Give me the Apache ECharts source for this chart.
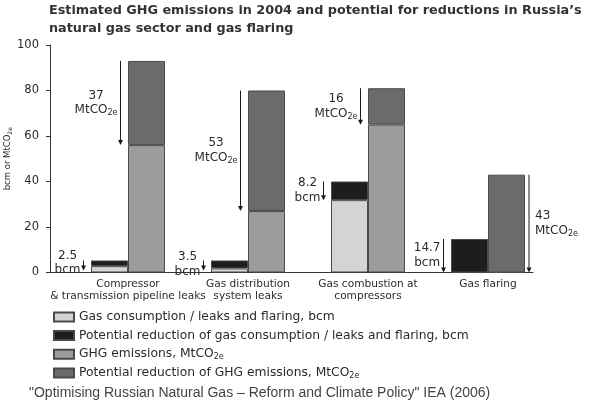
<!DOCTYPE html>
<html><head><meta charset="utf-8">
<script src="https://cdn.jsdelivr.net/npm/echarts@6/dist/echarts.min.js"></script>
<style>html,body{margin:0;padding:0;background:#fff}#c{width:605px;height:406px}</style>
</head><body><div id="c"></div>
<script>
// ---- data ----
const categories = ['Compressor\n& transmission pipeline leaks', 'Gas distribution\nsystem leaks', 'Gas combustion at\ncompressors', 'Gas flaring'];
const gasConsumption = [2.8, 1.8, 31.8, 0];      // bcm
const gasReduction   = [2.5, 3.5, 8.2, 14.7];     // bcm
const ghgEmissions   = [56, 27, 65, 0];           // MtCO2e
const ghgReduction   = [37, 53, 16, 43];          // MtCO2e
const yTickValues    = [0, 20, 40, 60, 80, 100];
const seriesNames = [
  'Gas consumption / leaks and flaring, bcm',
  'Potential reduction of gas consumption / leaks and flaring, bcm',
  'GHG emissions, MtCO2e',
  'Potential reduction of GHG emissions, MtCO2e'
];
const titleText = 'Estimated GHG emissions in 2004 and potential for reductions in Russia\u2019s\nnatural gas sector and gas flaring';
const sourceText = '"Optimising Russian Natural Gas \u2013 Reform and Climate Policy" IEA (2006)';
const yAxisName = 'bcm or MtCO2e';

// ---- style ----
const FONT = 'DejaVu Sans';
const TXT = '#2b2b2b';
const COLORS = ['#d4d4d4', '#1d1d1d', '#9c9c9c', '#6b6b6b'];
const BAR_W = 37;
const ANN_SIZE = 12, SUB_SIZE = 8;

const cvs = document.createElement('canvas').getContext('2d');
function tw(t, size) { cvs.font = size + 'px "' + FONT + '"'; return cvs.measureText(t).width; }
function sub(s) { return s.replace('MtCO2e', '{m|MtCO}{s|2e}'); }

// annotations: [category, top, bottom, kind, amount]
const annots = [];
categories.forEach((c, i) => {
  annots.push([i, gasConsumption[i] + gasReduction[i], gasConsumption[i], 0, gasReduction[i]]);
  annots.push([i, ghgEmissions[i] + ghgReduction[i], ghgEmissions[i], i === categories.length - 1 ? 2 : 1, ghgReduction[i]]);
});

const chart = echarts.init(document.getElementById('c'), null, { renderer: 'canvas' });

function richFor(size, subSize) {
  return {
    m: { fontSize: size, fontFamily: FONT, color: TXT, lineHeight: size + 1, verticalAlign: 'middle' },
    s: { fontSize: subSize, fontFamily: FONT, color: TXT, verticalAlign: 'bottom', lineHeight: size + 2 }
  };
}

function renderAnn(params, api) {
  const i = api.value(0), top = api.value(1), bot = api.value(2), kind = api.value(3), amt = api.value(4);
  const pt = api.coord([i, top]), pb = api.coord([i, bot]);
  const cx = pt[0];
  let x;
  if (kind === 0) x = cx - BAR_W - 7.5;
  else if (kind === 1) x = cx - 7.5;
  else x = cx + BAR_W + 4;
  const y1 = pt[1];
  let y2 = pb[1];
  const ym = (y1 + y2) / 2;
  if (y2 - y1 < 10) y2 = y1 + 10;
  const children = [
    { type: 'line', shape: { x1: x, y1: y1, x2: x, y2: y2 - 4 }, style: { stroke: '#1a1a1a', lineWidth: 1 } },
    { type: 'polygon', shape: { points: [[x - 2.5, y2 - 5], [x + 2.5, y2 - 5], [x, y2]] }, style: { fill: '#1a1a1a' } }
  ];
  const numStr = String(amt);
  const unitW = kind === 0 ? tw('bcm', ANN_SIZE) : tw('MtCO', ANN_SIZE) + tw('2e', SUB_SIZE);
  const blockW = Math.max(tw(numStr, ANN_SIZE), unitW);
  let tx, align;
  if (kind === 2) { tx = x + 6; align = 'left'; }
  else { tx = x - 3 - blockW / 2; align = 'center'; }
  children.push({ type: 'text', style: { text: numStr, x: tx, y: ym - 7.5, align: align, verticalAlign: 'middle', fontSize: ANN_SIZE, fontFamily: FONT, fill: TXT } });
  children.push({ type: 'text', style: {
    text: kind === 0 ? 'bcm' : sub('MtCO2e'), x: tx, y: ym + 7, align: align, verticalAlign: 'middle',
    fontSize: ANN_SIZE, fontFamily: FONT, fill: TXT, rich: richFor(ANN_SIZE, SUB_SIZE) } });
  return { type: 'group', children: children };
}

const barSeries = [gasConsumption, gasReduction, ghgEmissions, ghgReduction].map((d, k) => ({
  name: seriesNames[k],
  type: 'bar',
  stack: k < 2 ? 'bcm' : 'co2',
  data: d,
  barWidth: BAR_W,
  barGap: '0%',
  itemStyle: { color: COLORS[k], borderColor: '#4a4a4a', borderWidth: 1 },
  emphasis: { disabled: true },
  xAxisIndex: 0, yAxisIndex: 0
}));

const option = {
  animation: false,
  backgroundColor: '#fff',
  textStyle: { fontFamily: FONT },
  title: [
    { text: titleText, left: 49, top: 2, padding: 0,
      textStyle: { fontFamily: FONT, fontSize: 12.8, fontWeight: 'bold', color: '#333', lineHeight: 18 } },
    { text: sourceText, left: 24, top: 381,
      textStyle: { fontFamily: 'Liberation Sans', fontSize: 14, fontWeight: 'normal', color: '#444' } }
  ],
  grid: [
    { left: 68, right: 57, top: 45, height: 227.5, outerBoundsMode: 'none', containLabel: false },
    { left: 47, right: 72, top: 45, height: 227.5, outerBoundsMode: 'none', containLabel: false }
  ],
  legend: {
    orient: 'vertical', left: 48, top: 305,
    itemWidth: 20, itemHeight: 9, itemGap: 4.5,
    icon: 'rect',
    data: seriesNames,
    selectedMode: false,
    formatter: n => sub(n),
    textStyle: { fontFamily: FONT, fontSize: 12.3, color: TXT, lineHeight: 14,
      rich: richFor(12.3, 8) }
  },
  xAxis: [
    { type: 'category', gridIndex: 0, data: categories,
      axisLine: { show: false }, axisTick: { show: false },
      axisLabel: { margin: 6, fontFamily: FONT, fontSize: 10.6, lineHeight: 12, color: TXT, interval: 0 } },
    { type: 'value', gridIndex: 1, min: 0, max: 1, show: true,
      axisLine: { show: true, lineStyle: { color: '#333', width: 1 } },
      axisTick: { show: false }, axisLabel: { show: false }, splitLine: { show: false } }
  ],
  yAxis: [
    { type: 'value', gridIndex: 0, min: yTickValues[0], max: yTickValues[yTickValues.length - 1], interval: 20,
      offset: 18,
      name: sub(yAxisName), nameLocation: 'middle', nameGap: 37, nameMoveOverlap: false,
      nameTextStyle: { fontFamily: FONT, fontSize: 8.5, color: TXT, rich: richFor(8.5, 6) },
      axisLine: { show: true, lineStyle: { color: '#333', width: 1 } },
      axisTick: { show: true, length: 4, lineStyle: { color: '#333' } },
      axisLabel: { fontFamily: FONT, fontSize: 11.5, color: TXT, margin: 11 },
      splitLine: { show: false } },
    { type: 'value', gridIndex: 1, show: false }
  ],
  series: barSeries.concat([{
    type: 'custom', xAxisIndex: 0, yAxisIndex: 0, clip: false, silent: true,
    renderItem: renderAnn, data: annots, z: 5
  }])
};
chart.setOption(option);
</script></body></html>
